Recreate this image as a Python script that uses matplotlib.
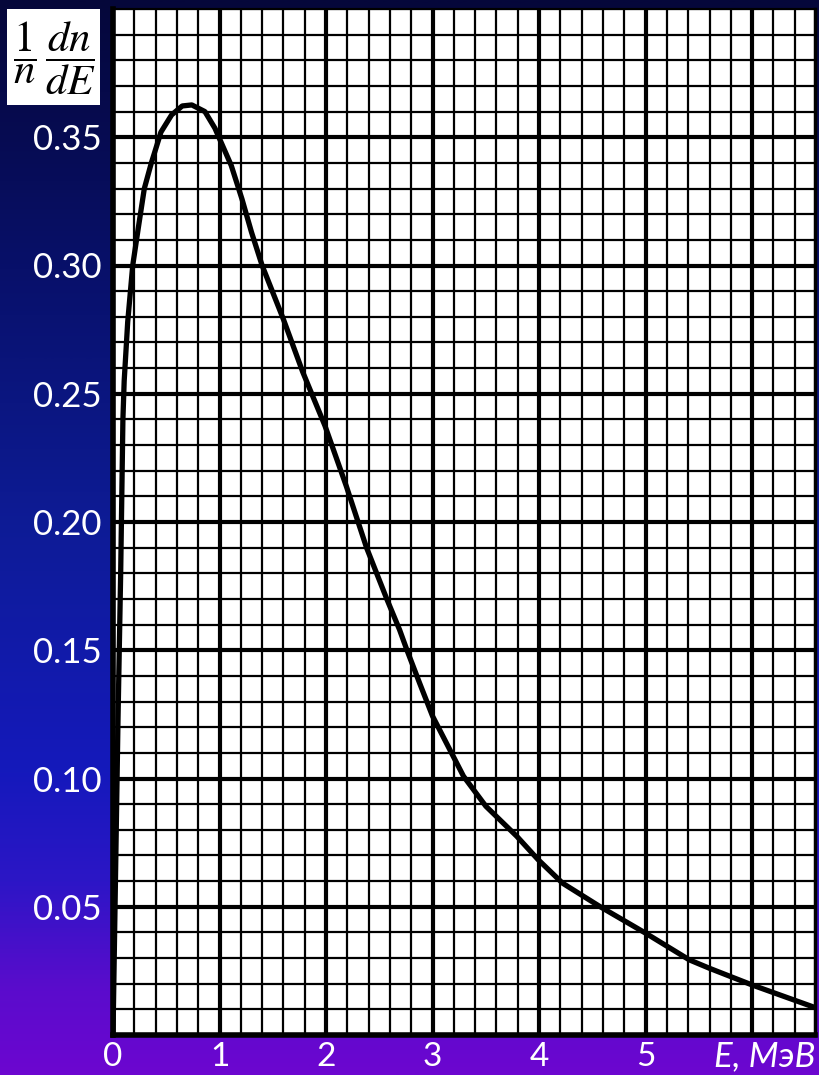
import numpy as np
import matplotlib
matplotlib.use("Agg")
import matplotlib.pyplot as plt
from matplotlib.ticker import MultipleLocator
from matplotlib.colors import LinearSegmentedColormap
from matplotlib.patches import Rectangle

# ---- data ----
energy = [0.0, 0.047, 0.072, 0.093, 0.105, 0.138, 0.185, 0.237, 0.294, 0.36, 0.394,
          0.45, 0.55, 0.65, 0.74, 0.863, 0.957, 1.11, 1.21, 1.30, 1.40, 1.60,
          1.78, 1.99, 2.19, 2.38, 2.57, 2.69, 2.76, 2.88, 3.0, 3.29, 3.50,
          3.79, 3.99, 4.22, 4.57, 5.0, 5.41, 5.6, 6.0, 6.57]
density = [0.0, 0.123, 0.180, 0.240, 0.255, 0.278, 0.300, 0.3145, 0.330, 0.340, 0.3445,
           0.352, 0.3587, 0.3622, 0.3626, 0.360, 0.3535, 0.339, 0.326, 0.313, 0.300, 0.279,
           0.2586, 0.2375, 0.214, 0.190, 0.170, 0.158, 0.150, 0.137, 0.1243, 0.1009, 0.0892,
           0.0775, 0.0684, 0.0592, 0.0501, 0.0397, 0.0293, 0.026, 0.0195, 0.011]
x_ticks = [0, 1, 2, 3, 4, 5, 6]
x_labels = ["0", "1", "2", "3", "4", "5", ""]
y_ticks = [0.05, 0.10, 0.15, 0.20, 0.25, 0.30, 0.35]
y_labels = ["0.05", "0.10", "0.15", "0.20", "0.25", "0.30", "0.35"]
x_unit = "E, МэВ"

plt.rcParams["mathtext.fontset"] = "stix"

fig = plt.figure(figsize=(8.19, 10.75), dpi=100)

# gradient background
bg = fig.add_axes([0, 0, 1, 1])
cmap = LinearSegmentedColormap.from_list("bg", [
    (0.0, "#05073a"), (0.25, "#08106a"), (0.5, "#0e1c98"),
    (0.72, "#1519bc"), (0.82, "#2c16c6"), (0.92, "#5a0ccc"), (1.0, "#6c06d0")])
grad = np.linspace(0, 1, 512).reshape(-1, 1)
bg.imshow(grad, aspect="auto", cmap=cmap, extent=[0, 1, 0, 1], origin="upper")
bg.set_axis_off()

L, R, B, T = 113 / 819, 815 / 819, (1075 - 1035) / 1075, (1075 - 9) / 1075
ax = fig.add_axes([L, B, R - L, T - B])
ax.set_facecolor("white")
ax.set_xlim(0, 6.59)
ax.set_ylim(0, 0.40)

ax.set_xticks(x_ticks, labels=x_labels)
ax.set_yticks(y_ticks, labels=y_labels)
ax.xaxis.set_minor_locator(MultipleLocator(0.2))
ax.yaxis.set_minor_locator(MultipleLocator(0.01))
ax.grid(which="minor", color="black", lw=1.6)
ax.grid(which="major", color="black", lw=3.0)
ax.set_axisbelow(True)
ax.tick_params(which="both", length=0)
ax.tick_params(axis="y", pad=8, labelsize=25, labelcolor="white")
ax.tick_params(axis="x", pad=5, labelsize=24, labelcolor="white")
for lab in ax.get_xticklabels() + ax.get_yticklabels():
    lab.set_fontfamily("Lato")

for side, lw in [("left", 4), ("bottom", 4), ("right", 2.5), ("top", 1.5)]:
    ax.spines[side].set_linewidth(lw)
    ax.spines[side].set_color("black")

ax.plot(energy, density, color="black", lw=3.8, solid_capstyle="round",
        solid_joinstyle="round", zorder=5)

fig.text(R, (1075 - 1056) / 1075, x_unit, ha="right", va="center",
         color="white", fontsize=25, style="italic", family="Lato")

# label box top-left
fig.add_artist(Rectangle((7 / 819, (1075 - 105) / 1075), 93 / 819, 96 / 1075,
                         transform=fig.transFigure, facecolor="white",
                         edgecolor="none", zorder=10))
fig.text(54 / 819, (1075 - 58) / 1075, r"$\dfrac{1}{n}\,\dfrac{dn}{dE}$",
         ha="center", va="center", fontsize=31, color="black", zorder=11)

fig.savefig("out.png", dpi=100)
